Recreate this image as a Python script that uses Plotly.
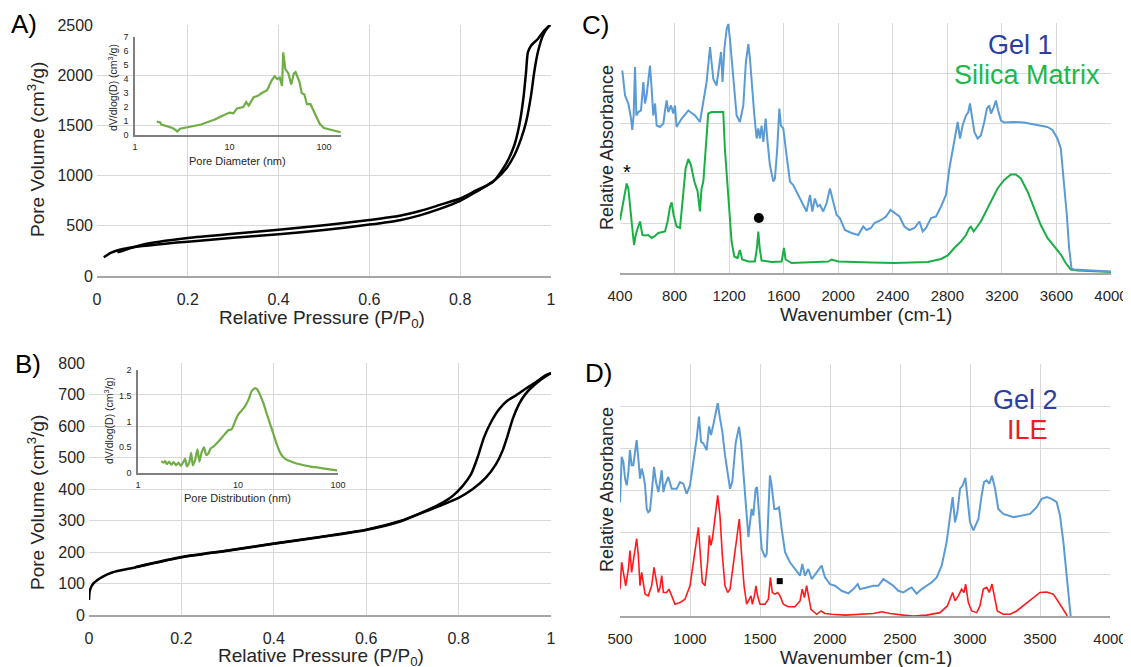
import plotly.graph_objects as go

# ---------------- DATA ----------------
# Panel A: N2 isotherm (relative pressure, pore volume cm3/g)
a_ads = [(0.015,186),(0.03,230),(0.05,262),(0.1,298),(0.15,322),(0.2,342),(0.3,380),(0.4,415),(0.5,458),
         (0.6,512),(0.667,556),(0.711,604),(0.755,668),(0.8,748),(0.835,838),(0.864,918),(0.879,965),
         (0.901,1068),(0.919,1200),(0.934,1366),(0.945,1532),(0.956,1797),(0.963,2029),(0.971,2228),
         (0.982,2394),(0.993,2477),(0.998,2500)]
a_des = [(0.045,235),(0.1,312),(0.2,378),(0.3,420),(0.4,460),(0.5,505),(0.6,558),(0.667,600),(0.711,647),
         (0.755,708),(0.8,772),(0.835,852),(0.872,935),(0.901,1117),(0.919,1300),(0.930,1499),(0.939,1764),
         (0.945,2029),(0.949,2228),(0.956,2294),(0.971,2361),(0.985,2444),(0.998,2500)]
# Panel A inset: pore size distribution (nm, dV/dlog(D))
a_psd = [(1.7,0.95),(1.85,0.9),(1.9,0.75),(2.1,0.65),(2.3,0.55),(2.5,0.5),(2.7,0.35),(2.8,0.25),(3.0,0.45),
         (3.5,0.55),(4.0,0.6),(5.0,0.75),(6.0,0.95),(7.0,1.1),(8.0,1.3),(9.0,1.45),(10,1.6),(11,1.55),
         (12,1.9),(14,2.0),(15,2.35),(16,2.1),(18,2.7),(20,2.8),(22,3.0),(25,3.2),(28,3.9),(30,4.2),
         (32,4.0),(34,4.1),(36,3.5),(37,5.9),(39,4.7),(42,4.4),(45,3.6),(48,4.4),(50,4.5),(55,3.8),
         (58,3.0),(62,2.9),(66,2.2),(72,2.2),(80,1.5),(90,0.8),(100,0.5),(120,0.35),(150,0.2)]

# Panel B: isotherm
b_ads = [(0.0,48),(0.002,79),(0.01,101),(0.03,122),(0.05,135),(0.1,151),(0.2,183),(0.3,204),(0.4,226),
         (0.5,247),(0.6,270),(0.672,296),(0.715,321),(0.758,346),(0.8,372),(0.83,399),(0.859,436),
         (0.881,479),(0.895,521),(0.906,569),(0.917,622),(0.931,670),(0.945,702),(0.967,734),(0.988,757),(1.0,768)]
b_des = [(0.1,152),(0.2,184),(0.3,205),(0.4,227),(0.5,248),(0.6,271),(0.672,298),(0.715,322),(0.758,351),
         (0.787,378),(0.809,410),(0.827,447),(0.841,500),(0.855,564),(0.870,612),(0.888,654),(0.906,681),
         (0.924,697),(0.945,718),(0.967,739),(0.988,761),(1.0,768)]
b_psd = [(1.71,0.23),(1.80,0.2),(1.87,0.23),(1.95,0.17),(2.05,0.22),(2.15,0.16),(2.27,0.21),(2.41,0.15),
         (2.54,0.2),(2.68,0.14),(2.85,0.22),(2.96,0.28),(3.08,0.13),(3.25,0.2),(3.40,0.39),(3.53,0.15),
         (3.72,0.25),(3.93,0.46),(4.11,0.22),(4.34,0.41),(4.58,0.5),(4.80,0.35),(5.06,0.38),(5.33,0.48),
         (5.67,0.51),(6.36,0.61),(7.13,0.72),(8.0,0.83),(8.64,0.85),(9.34,1.0),(10.0,1.13),(10.85,1.21),
         (11.7,1.29),(12.7,1.42),(13.7,1.59),(14.8,1.65),(15.6,1.62),(16.6,1.52),(17.9,1.36),(19.3,1.16),
         (20.8,0.97),(22.5,0.77),(24.3,0.57),(26.2,0.41),(28.3,0.31),(30.6,0.26),(34.3,0.22),(41.4,0.17),
         (52.0,0.13),(65.6,0.1),(82.7,0.07),(97.9,0.05)]

# Panel C: FTIR (wavenumber, relative absorbance)
gel1 = [(417,4.05),(437,3.55),(461,3.39),(481,3.09),(490,2.86),(500,3.15),(510,4.12),(520,3.15),(534,3.22),
        (554,3.25),(571,3.82),(583,3.39),(595,3.55),(608,3.82),(620,4.15),(632,3.69),(644,3.15),(657,3.39),
        (669,2.95),(693,2.92),(718,2.99),(730,3.25),(742,3.45),(754,3.22),(774,3.35),(791,3.19),(803,3.35),
        (815,2.92),(852,3.09),(901,3.25),(950,3.15),(986,3.02),(1011,3.42),(1035,3.82),(1060,4.52),(1072,4.15),
        (1084,3.88),(1108,3.75),(1126,4.08),(1141,4.42),(1152,3.82),(1165,4.48),(1182,4.88),(1194,4.98),
        (1206,4.68),(1218,4.28),(1238,3.55),(1255,3.15),(1279,3.02),(1304,3.35),(1323,4.22),(1341,4.58),
        (1353,4.28),(1365,3.82),(1385,3.15),(1402,2.69),(1414,2.89),(1426,2.69),(1438,2.95),(1451,2.62),
        (1468,3.09),(1482,2.62),(1499,2.16),(1524,1.83),(1536,1.89),(1553,2.49),(1568,3.29),(1580,2.95),
        (1597,2.89),(1621,2.36),(1646,1.83),(1670,1.76),(1707,1.56),(1744,1.36),(1768,1.23),(1793,1.56),
        (1810,1.23),(1829,1.49),(1849,1.33),(1866,1.36),(1890,1.23),(1915,1.4),(1939,1.69),(1963,1.43),
        (1988,1.16),(2012,1.10),(2049,0.86),(2098,0.80),(2147,0.76),(2183,0.93),(2208,0.86),(2240,0.90),
        (2266,1.0),(2315,1.06),(2351,1.13),(2383,1.26),(2412,1.2),(2449,1.13),(2485,0.93),(2522,0.86),
        (2559,0.9),(2595,1.03),(2620,0.83),(2644,0.9),(2680,1.1),(2717,1.13),(2754,1.33),(2790,1.56),
        (2815,2.09),(2839,2.49),(2863,2.82),(2876,3.02),(2893,2.69),(2912,2.95),(2937,3.15),(2954,3.22),
        (2966,3.39),(2980,3.09),(2998,2.82),(3022,2.69),(3046,2.75),(3071,3.02),(3090,3.29),(3107,3.35),
        (3120,3.19),(3137,3.29),(3156,3.45),(3173,3.25),(3193,3.05),(3217,3.01),(3290,3.02),(3363,3.01),
        (3437,2.97),(3498,2.95),(3534,2.92),(3571,2.86),(3607,2.69),(3632,2.49),(3656,1.83),(3676,1.16),
        (3693,0.5),(3710,0.1),(3729,0.07),(3876,0.05),(4000,0.03)]
silica = [(400,1.06),(412,1.23),(424,1.36),(437,1.59),(449,1.79),(461,1.69),(473,1.29),(490,0.9),(503,0.56),
          (515,0.76),(530,0.9),(547,1.03),(564,0.76),(583,0.75),(608,0.76),(632,0.7),(652,0.73),(681,0.8),
          (730,0.83),(749,1.03),(767,1.33),(779,1.41),(793,1.16),(815,0.93),(840,0.9),(864,1.63),(881,2.09),
          (901,2.28),(920,2.16),(945,1.83),(969,1.63),(986,1.23),(998,1.69),(1011,1.83),(1028,2.49),(1047,3.19),
          (1072,3.22),(1121,3.22),(1157,3.22),(1169,2.49),(1182,1.96),(1199,1.36),(1218,0.63),(1238,0.33),
          (1262,0.3),(1279,0.46),(1296,0.27),(1341,0.23),(1389,0.23),(1404,0.5),(1414,0.83),(1424,0.5),
          (1438,0.25),(1512,0.22),(1585,0.23),(1602,0.5),(1614,0.27),(1658,0.2),(1805,0.22),(1927,0.23),
          (1951,0.27),(2000,0.23),(2244,0.21),(2412,0.2),(2656,0.22),(2754,0.28),(2803,0.35),(2851,0.5),
          (2900,0.63),(2937,0.76),(2961,0.9),(2973,0.93),(2993,0.83),(3010,0.9),(3046,1.03),(3083,1.23),
          (3120,1.43),(3168,1.69),(3217,1.86),(3266,1.97),(3302,1.97),(3339,1.89),(3388,1.63),(3437,1.29),
          (3485,0.96),(3534,0.7),(3583,0.53),(3632,0.37),(3668,0.2),(3705,0.07),(3754,0.05),(3876,0.03),(4000,0.02)]
# Panel D
gel2 = [(500,2.71),(512,3.79),(524,3.67),(536,3.27),(548,3.11),(560,3.43),(571,3.95),(583,3.59),(595,3.59),
        (607,3.95),(619,4.19),(631,3.75),(643,3.27),(655,3.51),(667,3.35),(679,3.11),(691,2.55),(702,2.47),
        (714,2.51),(726,2.91),(743,3.55),(757,3.19),(774,2.95),(786,3.19),(798,3.47),(810,2.95),(821,3.11),
        (845,3.31),(869,3.03),(905,3.03),(929,3.19),(952,3.15),(976,2.91),(1000,3.11),(1024,3.67),(1048,4.23),
        (1064,4.75),(1079,4.15),(1095,4.11),(1119,3.95),(1136,4.51),(1150,4.31),(1164,4.51),(1183,4.83),
        (1198,5.07),(1214,4.71),(1231,4.39),(1250,3.83),(1269,3.35),(1286,3.03),(1302,3.19),(1326,4.11),
        (1350,4.51),(1364,4.15),(1381,3.43),(1400,2.71),(1417,1.88),(1429,2.23),(1440,2.55),(1452,2.39),
        (1469,3.03),(1479,3.07),(1493,2.39),(1512,1.6),(1536,1.4),(1548,1.48),(1560,2.47),(1571,3.35),
        (1583,3.11),(1602,2.55),(1619,2.55),(1636,2.59),(1655,2.07),(1679,1.52),(1714,1.28),(1750,1.12),
        (1786,0.96),(1802,1.24),(1821,0.96),(1845,1.12),(1869,0.88),(1905,1.04),(1940,1.2),(1964,0.92),
        (2000,0.76),(2036,0.72),(2083,0.6),(2131,0.54),(2167,0.64),(2198,0.76),(2214,0.64),(2262,0.68),
        (2310,0.72),(2345,0.72),(2381,0.88),(2417,0.8),(2452,0.72),(2488,0.6),(2524,0.56),(2560,0.64),
        (2583,0.68),(2619,0.53),(2655,0.64),(2690,0.72),(2726,0.8),(2762,0.92),(2798,1.2),(2833,1.76),
        (2857,2.39),(2876,2.83),(2893,2.23),(2910,2.47),(2929,3.03),(2948,3.11),(2967,3.29),(2981,2.87),
        (3000,2.23),(3024,2.04),(3060,2.31),(3083,2.87),(3100,3.19),(3119,3.23),(3138,3.15),(3157,3.34),
        (3179,3.03),(3202,2.55),(3238,2.43),(3310,2.35),(3381,2.39),(3429,2.43),(3476,2.59),(3512,2.79),
        (3548,2.83),(3583,2.79),(3619,2.71),(3643,2.39),(3667,1.76),(3686,1.12),(3702,0.48),(3719,0.0)]
ile = [(500,0.64),(512,1.28),(524,1.04),(541,0.72),(560,1.12),(571,1.56),(583,1.04),(595,1.28),(607,1.52),
       (619,1.84),(631,1.44),(643,0.72),(655,1.04),(667,0.72),(679,0.52),(702,0.48),(726,0.72),(743,1.16),
       (757,0.88),(774,0.56),(786,0.68),(798,0.96),(810,0.56),(833,0.56),(850,0.64),(869,0.48),(893,0.28),
       (929,0.32),(964,0.4),(1000,0.72),(1024,1.28),(1040,1.76),(1060,2.11),(1071,1.6),(1088,0.8),(1107,0.72),
       (1126,1.28),(1138,1.92),(1150,1.68),(1162,1.88),(1179,2.31),(1198,2.87),(1214,2.39),(1231,1.44),
       (1250,0.72),(1269,0.56),(1286,0.64),(1310,1.28),(1333,1.92),(1352,2.31),(1369,1.44),(1386,0.72),
       (1405,0.28),(1421,0.4),(1436,0.48),(1445,0.28),(1460,0.48),(1471,0.72),(1483,0.48),(1500,0.28),
       (1536,0.28),(1560,0.4),(1574,0.92),(1588,0.56),(1607,0.52),(1626,0.56),(1643,0.48),(1667,0.28),
       (1702,0.22),(1750,0.22),(1786,0.36),(1802,0.64),(1817,0.44),(1833,0.72),(1845,0.48),(1864,0.16),
       (1905,0.04),(1936,0.12),(1964,0.06),(2012,0.04),(2107,0.02),(2202,0.04),(2310,0.06),(2369,0.1),
       (2429,0.06),(2524,0.02),(2595,0.0),(2690,0.02),(2786,0.08),(2838,0.24),(2876,0.56),(2893,0.36),
       (2917,0.48),(2940,0.64),(2957,0.56),(2969,0.76),(2988,0.32),(3012,0.12),(3048,0.08),(3071,0.24),
       (3095,0.64),(3119,0.68),(3138,0.56),(3157,0.76),(3174,0.48),(3195,0.12),(3238,0.04),(3286,0.04),
       (3333,0.12),(3393,0.28),(3452,0.44),(3500,0.56),(3548,0.57),(3595,0.52),(3643,0.28),(3679,0.08),(3695,0.0)]

# Peak markers (wavenumber, absorbance)
c_star = (450, 1.98)
c_dot = (1418, 1.1)
d_square = (1641, 0.83)

# The page body has an 8 px margin: the figure is drawn 8 px in from the window edge.
OFF = 8
WIN_W, WIN_H = 1131, 667
W, H = WIN_W - OFF, WIN_H - OFF
FONT = "Liberation Sans, Arial, sans-serif"
GRID = "#d9d9d9"
AXLINE = "#a6a6a6"
TXT = "#262626"


def px(p):
    return (p - OFF) / W


def py(p):
    return 1 - (p - OFF) / H


def xs(d):
    return [p[0] for p in d]


def ys(d):
    return [p[1] for p in d]


fig = go.Figure()

BLACK = dict(color="black", width=2.5)
GREEN_PSD = dict(color="#70ad47", width=2.2)

fig.add_trace(go.Scatter(x=xs(a_ads), y=ys(a_ads), mode="lines", line=dict(BLACK, shape="spline", smoothing=0.6), xaxis="x", yaxis="y"))
fig.add_trace(go.Scatter(x=xs(a_des), y=ys(a_des), mode="lines", line=dict(BLACK, shape="spline", smoothing=0.6), xaxis="x", yaxis="y"))
fig.add_trace(go.Scatter(x=xs(a_psd), y=ys(a_psd), mode="lines", line=GREEN_PSD, xaxis="x2", yaxis="y2"))

fig.add_trace(go.Scatter(x=xs(b_ads), y=ys(b_ads), mode="lines", line=dict(BLACK, shape="spline", smoothing=0.6), xaxis="x3", yaxis="y3"))
fig.add_trace(go.Scatter(x=xs(b_des), y=ys(b_des), mode="lines", line=dict(BLACK, shape="spline", smoothing=0.6), xaxis="x3", yaxis="y3"))
fig.add_trace(go.Scatter(x=xs(b_psd), y=ys(b_psd), mode="lines", line=dict(GREEN_PSD, shape="spline", smoothing=0.5), xaxis="x4", yaxis="y4"))

fig.add_trace(go.Scatter(x=xs(silica), y=ys(silica), mode="lines", line=dict(color="#1aaf45", width=2), xaxis="x5", yaxis="y5"))
fig.add_trace(go.Scatter(x=xs(gel1), y=ys(gel1), mode="lines", line=dict(color="#5b9bd5", width=2), xaxis="x5", yaxis="y5"))
fig.add_trace(go.Scatter(x=[c_star[0]], y=[c_star[1]], mode="text", text=["*"], textfont=dict(size=20, color="black", family=FONT), xaxis="x5", yaxis="y5"))
fig.add_trace(go.Scatter(x=[c_dot[0]], y=[c_dot[1]], mode="markers", marker=dict(symbol="circle", size=10, color="black"), xaxis="x5", yaxis="y5"))

fig.add_trace(go.Scatter(x=xs(ile), y=ys(ile), mode="lines", line=dict(color="#ff1a1a", width=1.6), xaxis="x6", yaxis="y6"))
fig.add_trace(go.Scatter(x=xs(gel2), y=ys(gel2), mode="lines", line=dict(color="#5b9bd5", width=2), xaxis="x6", yaxis="y6"))
fig.add_trace(go.Scatter(x=[d_square[0]], y=[d_square[1]], mode="markers", marker=dict(symbol="square", size=6, color="black"), xaxis="x6", yaxis="y6"))


def main_x(dom_px, anchor, rng, dtick, standoff=8, size=16):
    return dict(domain=[px(dom_px[0]), px(dom_px[1])], anchor=anchor, range=rng, dtick=dtick, tick0=rng[0],
                showgrid=True, gridcolor=GRID, gridwidth=1, showline=True, linecolor=AXLINE, linewidth=2,
                zeroline=False, ticks="", tickfont=dict(size=size, color=TXT, family=FONT),
                ticklabelstandoff=standoff, mirror=False, automargin=False)


def main_y(dom_px, anchor, rng, dtick, labels=True, size=16):
    return dict(domain=[py(dom_px[0]), py(dom_px[1])], anchor=anchor, range=rng, dtick=dtick, tick0=rng[0],
                showgrid=True, gridcolor=GRID, gridwidth=1, showline=False, zeroline=False, ticks="",
                showticklabels=labels, tickfont=dict(size=size, color=TXT, family=FONT), ticklabelstandoff=3,
                automargin=False)


def inset_x(dom_px, anchor, rng):
    return dict(domain=[px(dom_px[0]), px(dom_px[1])], anchor=anchor, type="log", range=rng,
                tickvals=[1, 10, 100], ticktext=["1", "10", "100"], showgrid=False, showline=True,
                linecolor="#7f7f7f", linewidth=1.5, zeroline=False, ticks="",
                tickfont=dict(size=9, color=TXT, family=FONT), ticklabelstandoff=2, automargin=False)


def inset_y(dom_px, anchor, rng, dtick):
    return dict(domain=[py(dom_px[0]), py(dom_px[1])], anchor=anchor, range=rng, dtick=dtick, tick0=0,
                showgrid=False, showline=True, linecolor="#7f7f7f", linewidth=1.5, zeroline=False, ticks="",
                tickfont=dict(size=9, color=TXT, family=FONT), ticklabelstandoff=3, automargin=False)


fig.update_layout(
    width=W, height=H, autosize=False,
    margin=dict(l=0, r=0, t=0, b=0, pad=0, autoexpand=False),
    paper_bgcolor="white", plot_bgcolor="rgba(0,0,0,0)",
    showlegend=False,
    font=dict(family=FONT, color=TXT),
    xaxis=main_x((97, 551), "y", [0, 1], 0.2),
    yaxis=main_y((276, 25), "x", [0, 2500], 500),
    xaxis2=inset_x((135, 341), "y2", [0, 2.18]),
    yaxis2=inset_y((135, 37), "x2", [0, 7], 1),
    xaxis3=main_x((89, 551), "y3", [0, 1], 0.2),
    yaxis3=main_y((615, 363), "x3", [0, 800], 100),
    xaxis4=inset_x((138, 338), "y4", [0, 2]),
    yaxis4=inset_y((473, 370), "x4", [0, 2], 0.5),
    xaxis5=main_x((620, 1111), "y5", [400, 4000], 400, size=15),
    yaxis5=main_y((273, 23), "x5", [0, 5], 1, labels=False),
    xaxis6=main_x((620, 1110), "y6", [500, 4000], 500, size=15),
    yaxis6=main_y((616, 364), "x6", [0, 6], 1, labels=False),
)


def ann(text, x, y, size, color=TXT, angle=0):
    fig.add_annotation(text=text, x=px(x), y=py(y), xref="paper", yref="paper", showarrow=False,
                       xanchor="center", yanchor="middle", textangle=angle,
                       font=dict(size=size, color=color, family=FONT))


# Panel labels
ann("A)", 24, 24, 26, "black")
ann("B)", 28, 364, 26, "black")
ann("C)", 595, 25, 26, "black")
ann("D)", 598, 373, 26, "black")

# Axis titles
ann("Pore Volume (cm<sup>3</sup>/g)", 36, 150, 19, angle=-90)
ann("Relative Pressure (P/P<sub>0</sub>)", 322, 319, 19)
ann("Pore Volume (cm<sup>3</sup>/g)", 36, 503, 19, angle=-90)
ann("Relative Pressure (P/P<sub>0</sub>)", 321, 657, 19)
ann("Relative Absorbance", 607, 148, 18, angle=-90)
ann("Wavenumber (cm-1)", 866, 315, 19)
ann("Relative Absorbance", 607, 490, 18, angle=-90)
ann("Wavenumber (cm-1)", 866, 657, 19)

# Inset titles
ann("dV/dlog(D) (cm<sup>3</sup>/g)", 113, 88, 10.5, angle=-90)
ann("Pore Diameter (nm)", 237, 161, 11)
ann("dV/dlog(D) (cm<sup>3</sup>/g)", 108, 421, 10.5, angle=-90)
ann("Pore Distribution (nm)", 237, 498, 11)

# Legend-like labels
ann("Gel 1", 1020, 45, 27, "#2b3f9f")
ann("Silica Matrix", 1027, 75, 27, "#1db84a")
ann("Gel 2", 1025, 400, 27, "#2b3f9f")
ann("ILE", 1027, 430, 27, "#ee1c25")

fig.write_html("out.html")
